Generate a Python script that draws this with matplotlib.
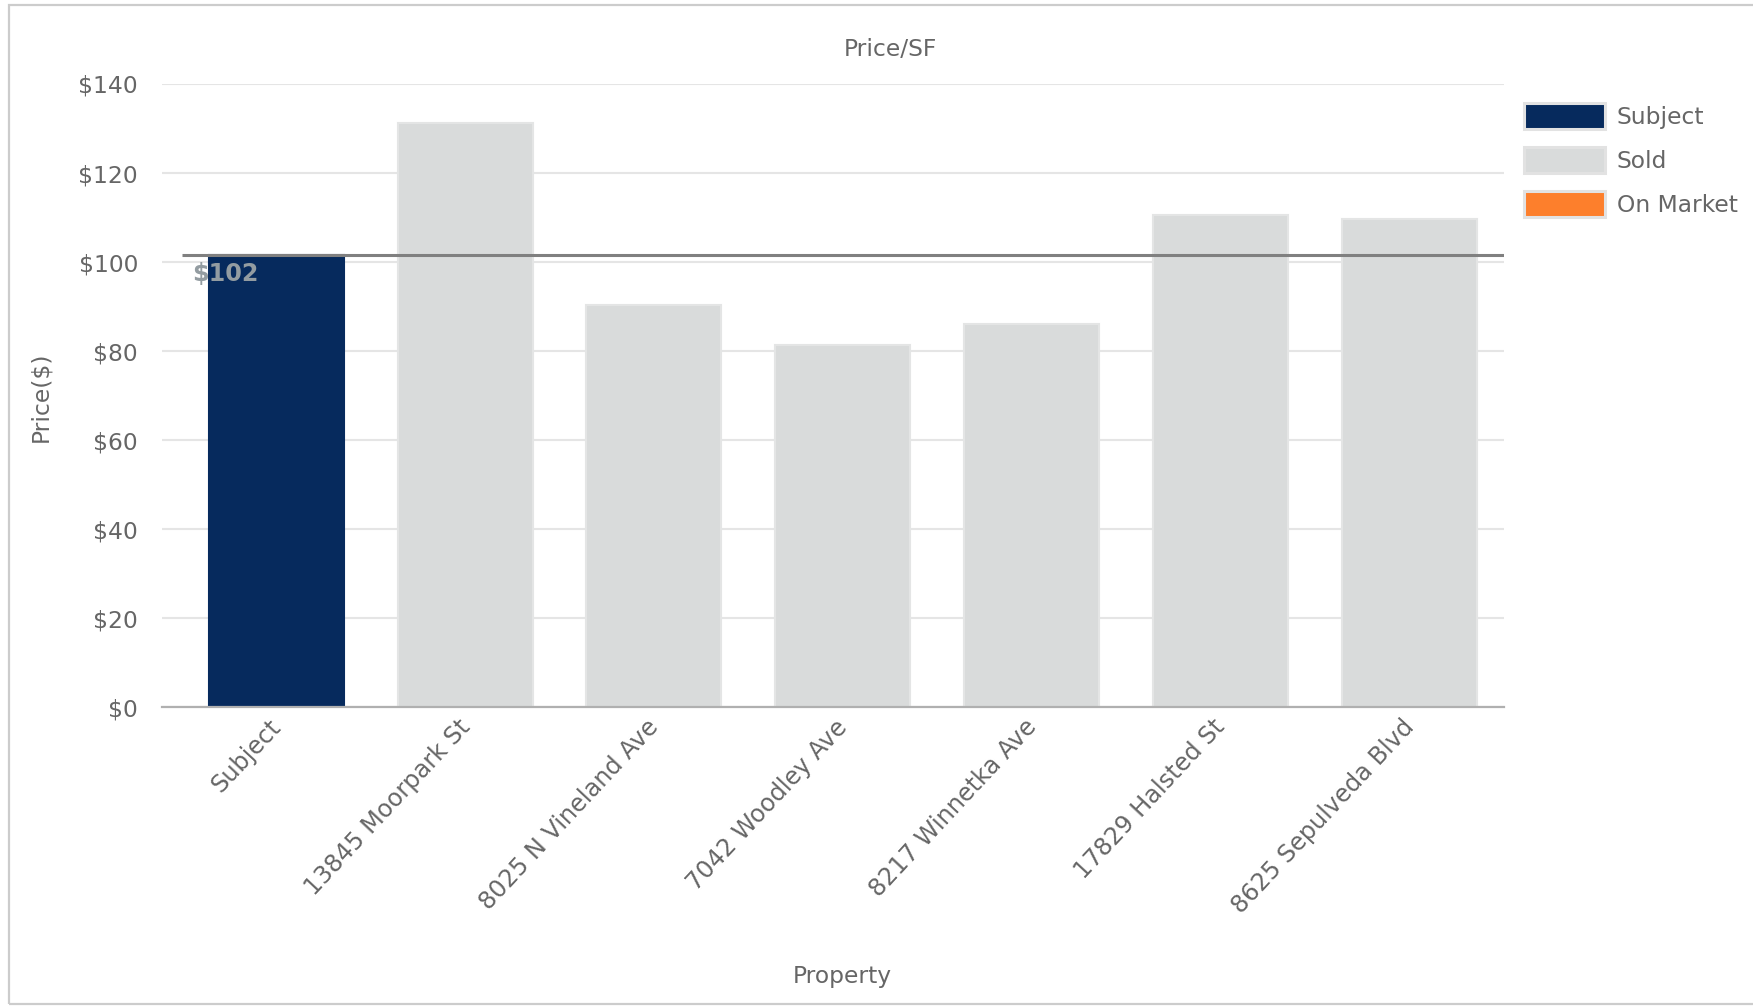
import matplotlib
matplotlib.use("Agg")
import matplotlib.pyplot as plt
from matplotlib.patches import Rectangle
from matplotlib.transforms import blended_transform_factory, offset_copy, ScaledTranslation

# ---- data ----
properties = ["Subject", "13845 Moorpark St", "8025 N Vineland Ave", "7042 Woodley Ave",
              "8217 Winnetka Ave", "17829 Halsted St", "8625 Sepulveda Blvd"]
price_sf = [101.6, 131.2, 90.4, 81.4, 86.1, 110.6, 109.6]
status = ["Subject", "Sold", "Sold", "Sold", "Sold", "Sold", "Sold"]
subject_avg = 101.6
avg_label = "$102"
y_ticks = [0, 20, 40, 60, 80, 100, 120, 140]
legend_labels = ["Subject", "Sold", "On Market"]

# ---- style ----
W, H = 1753, 1006
TXT = "#666666"
FS = 16.8
colors = {"Subject": "#062a5d", "Sold": "#d9dbdb", "On Market": "#fd7f2c"}
edges = {"Subject": "#062a5d", "Sold": "#e4e5e5", "On Market": "#f29a5a"}
plt.rcParams["font.family"] = ["DejaVu Sans"]

fig = plt.figure(figsize=(W / 100, H / 100), dpi=100)
fig.patch.set_facecolor("white")

# outer frame (runs past the right edge)
fig.patches.append(Rectangle((9 / W, 1 - 1004 / H), 1.2, (1004 - 4.5) / H,
                             transform=fig.transFigure, fill=False,
                             edgecolor="#cccccc", linewidth=1.6))

ax_l, ax_r, ax_t, ax_b = 161.5, 1503.7, 84.0, 707.3
ax = fig.add_axes([ax_l / W, 1 - ax_b / H, (ax_r - ax_l) / W, (ax_b - ax_t) / H])
ax.set_facecolor("none")

x = list(range(len(properties)))
ax.bar(x, price_sf, width=0.715,
       color=[colors[s] for s in status],
       edgecolor=[edges[s] for s in status], linewidth=1.5, zorder=2)

ax.set_xlim(-0.6075, len(properties) - 0.5)
ax.set_ylim(0, 140)
ax.set_yticks(y_ticks)
ax.set_yticklabels([f"${v}" for v in y_ticks])
ax.yaxis.grid(True, color="#e5e5e5", linewidth=1.5, zorder=0)
ax.set_axisbelow(True)
for side in ("top", "right", "left"):
    ax.spines[side].set_visible(False)
ax.spines["bottom"].set_color("#b0b0b0")
ax.spines["bottom"].set_linewidth(1.6)
ax.spines["bottom"].set_zorder(3)

ax.tick_params(axis="y", length=0, pad=17, labelsize=FS, labelcolor=TXT)
ax.tick_params(axis="x", length=0, pad=10, labelsize=17.3, labelcolor=TXT)
ax.set_xticks(x)
ax.set_xticklabels(properties, rotation=47, ha="right", rotation_mode="anchor")
shift = ScaledTranslation(-8 / 100, 6 / 100, fig.dpi_scale_trans)
for lab in ax.get_xticklabels():
    lab.set_transform(lab.get_transform() + shift)

# subject average line and its label
ax.plot([-0.5, len(properties) - 0.5], [subject_avg, subject_avg],
        color="#808080", linewidth=2.2, zorder=4, solid_capstyle="butt")
ax.text(-0.5, subject_avg, avg_label, fontsize=17.2, fontweight="bold",
        color="#939ca1", ha="left", va="top", zorder=5,
        transform=offset_copy(ax.transData, fig=fig, x=10, y=-7, units="dots"))

# titles
fig.text(890 / W, 1 - 50 / H, "Price/SF", fontsize=FS, color=TXT,
         ha="center", va="center")
fig.text(41 / W, 1 - 397 / H, "Price($)", fontsize=FS, color=TXT,
         ha="center", va="center", rotation=90)
ax.text(3, 1 - 976 / H, "Property", fontsize=FS, color=TXT, ha="center", va="center",
        transform=blended_transform_factory(ax.transData, fig.transFigure))

# legend
lx, lw_, lh = 1524, 81, 26
for i, lab in enumerate(legend_labels):
    cy = 116 + i * 44
    fig.patches.append(Rectangle((lx / W, 1 - (cy + lh / 2) / H), lw_ / W, lh / H,
                                 transform=fig.transFigure, facecolor=colors[lab],
                                 edgecolor="#e2e2e2", linewidth=2.2))
    fig.text(1617 / W, 1 - (cy - 1) / H, lab, fontsize=FS, color=TXT,
             ha="left", va="center_baseline")

fig.savefig("out.png", dpi=100)
